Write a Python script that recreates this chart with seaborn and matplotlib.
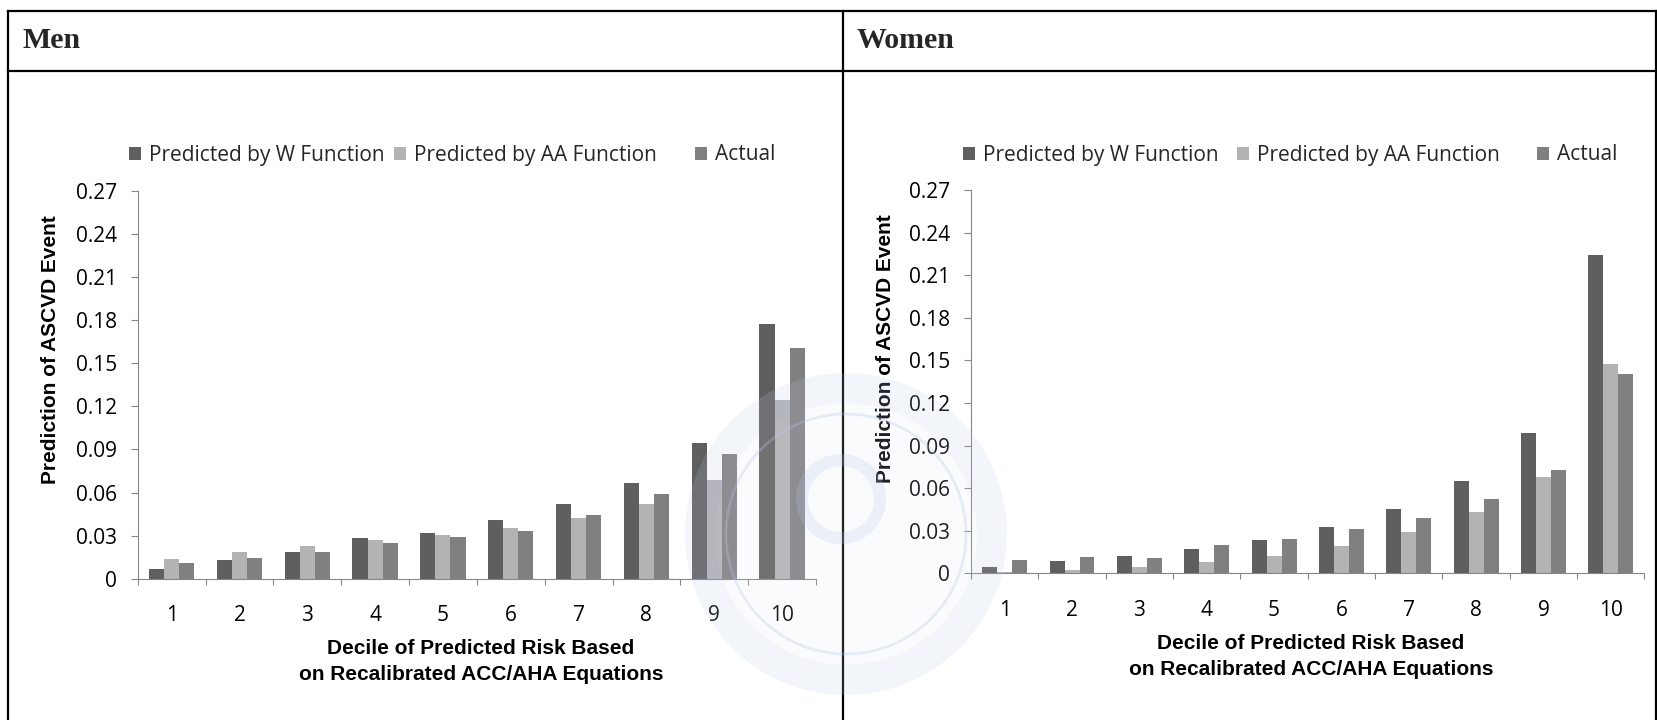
import numpy as np
import pandas as pd
import matplotlib
matplotlib.use("Agg")
import matplotlib.pyplot as plt
from matplotlib.lines import Line2D
from matplotlib.patches import Wedge, Circle
from matplotlib.ticker import FixedLocator, FixedFormatter
import seaborn as sns

# ---- data -------------------------------------------------------------
deciles = ["1", "2", "3", "4", "5", "6", "7", "8", "9", "10"]
series_names = ["Predicted by W Function", "Predicted by AA Function", "Actual"]

men_w = [0.0067, 0.0128, 0.0188, 0.0281, 0.0321, 0.0409, 0.0519, 0.0668, 0.0942, 0.1777]
men_aa = [0.0140, 0.0188, 0.0230, 0.0267, 0.0307, 0.0356, 0.0426, 0.0523, 0.0686, 0.1242]
men_actual = [0.0112, 0.0147, 0.0188, 0.0249, 0.0293, 0.0333, 0.0444, 0.0591, 0.0868, 0.1607]

women_w = [0.0047, 0.0084, 0.0122, 0.0171, 0.0237, 0.0326, 0.0455, 0.0648, 0.0990, 0.2239]
women_aa = [0.0006, 0.0026, 0.0047, 0.0077, 0.0122, 0.0190, 0.0289, 0.0430, 0.0676, 0.1474]
women_actual = [0.0092, 0.0113, 0.0106, 0.0197, 0.0239, 0.0310, 0.0392, 0.0523, 0.0730, 0.1406]

y_ticks = [0, 0.03, 0.06, 0.09, 0.12, 0.15, 0.18, 0.21, 0.24, 0.27]
y_tick_labels = ["0", "0.03", "0.06", "0.09", "0.12", "0.15", "0.18", "0.21", "0.24", "0.27"]

panel_titles = ["Men", "Women"]
y_title = "Prediction of ASCVD Event"
x_title = "Decile of Predicted Risk Based\non Recalibrated ACC/AHA Equations"

# ---- styling ----------------------------------------------------------
sns.set_theme(style="white")
plt.rcParams["font.family"] = ["Open Sans", "DejaVu Sans"]

palette = {series_names[0]: "#5f5f5f", series_names[1]: "#b3b3b3", series_names[2]: "#808080"}
axis_gray = "#868686"
tick_font = 15
label_family = ["Liberation Sans", "DejaVu Sans"]

W, H = 1658, 720
fig = plt.figure(figsize=(W / 100, H / 100), dpi=100)
fig.patch.set_facecolor("white")


def long_frame(w, aa, actual):
    rows = []
    for name, vals in zip(series_names, (w, aa, actual)):
        for d, v in zip(deciles, vals):
            rows.append({"Decile": d, "Risk": v, "Series": name})
    return pd.DataFrame(rows)


def px_box(x0, y_top, x1, y_bot):
    return [x0 / W, 1 - y_bot / H, (x1 - x0) / W, (y_bot - y_top) / H]


panels = [
    dict(vals=(men_w, men_aa, men_actual), box=px_box(137.7, 191, 816, 578.7),
         legend_x=(129, 394, 695), legend_y=155, ylab=(-0.128, 0.59), xlab=(0.506, -0.213)),
    dict(vals=(women_w, women_aa, women_actual), box=px_box(971, 190, 1644.5, 573.3),
         legend_x=(963, 1237, 1537), legend_y=155, ylab=(-0.127, 0.585), xlab=(0.505, -0.218)),
]

for p in panels:
    ax = fig.add_axes(p["box"])
    df = long_frame(*p["vals"])
    sns.barplot(data=df, x="Decile", y="Risk", hue="Series", hue_order=series_names,
                order=deciles, palette=palette, saturation=1, width=2 / 3,
                errorbar=None, linewidth=0, ax=ax)
    ax.set_xlim(-0.5, len(deciles) - 0.5)
    ax.set_ylim(0, 0.27)

    # y axis
    ax.yaxis.set_major_locator(FixedLocator(y_ticks))
    ax.yaxis.set_major_formatter(FixedFormatter(y_tick_labels))
    ax.tick_params(axis="y", which="major", direction="out", length=5, width=0.8,
                   color=axis_gray, pad=10, labelsize=tick_font, labelcolor="black", left=True)

    # x axis: labels at category centres, tick marks on category boundaries
    ax.xaxis.set_major_locator(FixedLocator(np.arange(len(deciles))))
    ax.set_xticklabels(deciles)
    ax.xaxis.set_minor_locator(FixedLocator(np.arange(len(deciles) + 1) - 0.5))
    ax.tick_params(axis="x", which="major", length=0, pad=19, labelsize=tick_font,
                   labelcolor="black", bottom=True)
    ax.tick_params(axis="x", which="minor", direction="out", length=4.5, width=0.8,
                   color=axis_gray, bottom=True)

    for side in ("top", "right"):
        ax.spines[side].set_visible(False)
    for side in ("left", "bottom"):
        ax.spines[side].set_color(axis_gray)
        ax.spines[side].set_linewidth(0.8)

    ax.set_ylabel(y_title, fontsize=15, fontweight="bold", family=label_family, color="black")
    ax.yaxis.set_label_coords(*p["ylab"])
    ax.yaxis.label.set_va("center")
    ax.set_xlabel(x_title, fontsize=15, fontweight="bold", linespacing=1.45,
                  family=label_family, color="black")
    ax.xaxis.set_label_coords(*p["xlab"])
    ax.xaxis.label.set_va("center")

    # one legend entry per slot, each placed at its own column position
    handles, labels = ax.get_legend_handles_labels()
    legends = []
    for h, l, lx in zip(handles, labels, p["legend_x"]):
        leg = ax.legend([h], [l], loc="center left",
                        bbox_to_anchor=(lx / W, 1 - p["legend_y"] / H),
                        bbox_transform=fig.transFigure, frameon=False, fontsize=tick_font,
                        handlelength=0.6, handleheight=0.6, handletextpad=0.35,
                        borderpad=0, borderaxespad=0)
        legends.append(leg)
    for leg in legends[:-1]:
        ax.add_artist(leg)

# ---- table frame and panel headers -------------------------------------
frame_kw = dict(color="black", linewidth=1.6, transform=fig.transFigure, solid_capstyle="projecting")
x_left, x_mid, x_right = 8, 843, 1656
y_top, y_head = 11, 71
fig.add_artist(Line2D([x_left / W, x_right / W], [1 - y_top / H] * 2, **frame_kw))
fig.add_artist(Line2D([x_left / W, x_right / W], [1 - y_head / H] * 2, **frame_kw))
for xv in (x_left, x_mid, x_right):
    fig.add_artist(Line2D([xv / W] * 2, [1 - y_top / H, 0], **frame_kw))

for title, xpos in zip(panel_titles, (23, 857)):
    fig.text(xpos / W, 1 - 48 / H, title, fontsize=21.5, fontweight="bold",
             family=["Liberation Serif", "DejaVu Serif"], va="baseline", ha="left")

# ---- faint seal printed across the page ---------------------------------
seal_c = (846 / 100, (H - 534) / 100)   # inches from lower-left
seal_kw = dict(transform=fig.dpi_scale_trans, zorder=10, linewidth=0)
fig.add_artist(Wedge(seal_c, 1.61, 0, 360, width=0.30, facecolor="#b8c8e8", alpha=0.18, **seal_kw))
fig.add_artist(Circle(seal_c, 1.31, facecolor="#dbe3f3", alpha=0.14, **seal_kw))
fig.add_artist(Circle(seal_c, 1.20, facecolor="none", edgecolor="#b8c8e8", alpha=0.30,
                      transform=fig.dpi_scale_trans, zorder=10, linewidth=2.0))
fig.add_artist(Wedge((seal_c[0] - 0.05, seal_c[1] + 0.35), 0.45, 0, 360, width=0.12,
                     facecolor="#b8c8e8", alpha=0.22, **seal_kw))

fig.savefig("out.png", dpi=100, facecolor="white")
